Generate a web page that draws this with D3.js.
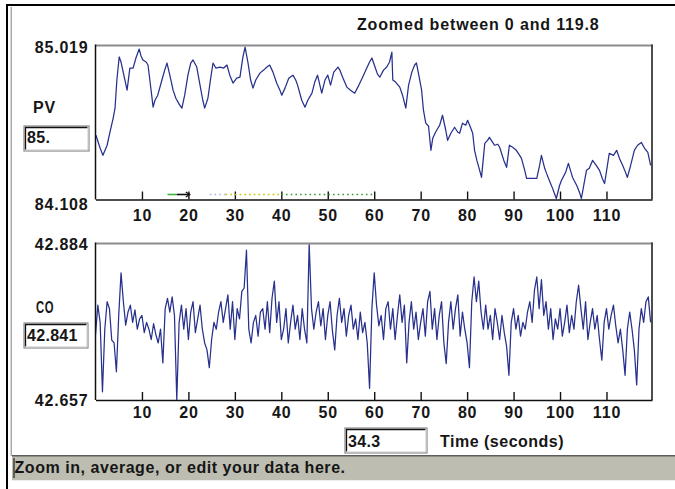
<!DOCTYPE html>
<html>
<head>
<meta charset="utf-8">
<script src="https://cdn.jsdelivr.net/npm/d3@7/dist/d3.min.js"></script>
<style>
  body { margin: 0; background: #fff; }
  text {
    font-family: "Liberation Sans", Arial, sans-serif;
    font-weight: bold;
    font-size: 16px;
    letter-spacing: 0.8px;
    fill: #161616;
  }
</style>
</head>
<body>
<div id="chart"></div>
<script>
/** Data */
const timeTicks = [10, 20, 30, 40, 50, 60, 70, 80, 90, 100, 110];
const timeRange = [0, 119.8];
const pvRange = [84.108, 85.019];
const coRange = [42.657, 42.884];
const pvReadout = "85.";
const coReadout = "42.841";
const timeReadout = "34.3";

const pvTime = [
  0.1, 1.0, 1.6, 2.5, 3.1, 3.8, 4.2, 4.6, 5.1, 5.5, 6.1, 6.8, 7.4, 8.1, 8.7, 9.4, 9.8,
  10.2, 10.9, 11.3, 11.7, 12.4, 12.8, 13.4, 14.3, 14.9, 15.4, 16.0, 16.7, 17.3, 18.0, 18.6, 19.2, 19.9,
  20.5, 21.0, 21.8, 22.5, 23.1, 23.5, 24.2, 24.8, 25.3, 25.9, 26.8, 27.6, 28.3, 28.9, 29.6,
  30.4, 31.1, 31.7, 32.2, 32.8, 33.4, 33.9, 34.5, 35.4, 36.2, 36.9, 37.5, 38.2, 39.0, 39.7,
  40.1, 40.8, 41.6, 42.5, 43.1, 43.5, 44.4, 45.1, 45.7, 46.6, 47.2, 47.8, 48.3, 48.7, 49.4,
  50.0, 50.6, 51.3, 52.2, 52.6, 53.2, 54.1, 54.9, 55.8, 56.7, 57.5, 58.4, 59.0, 59.5,
  60.1, 60.7, 61.2, 62.0, 62.7, 63.3, 63.8, 64.0, 64.6, 65.5, 66.1, 66.8, 67.4, 68.1, 68.7, 69.1, 69.8,
  70.2, 70.6, 71.1, 71.7, 72.2, 72.6, 73.2, 73.7, 74.1, 74.7, 75.4, 75.8, 76.5, 77.3, 78.0, 78.4, 79.0, 79.7,
  80.1, 80.8, 81.2, 81.6, 82.1, 82.7, 83.1, 83.8, 84.4, 84.8, 85.5, 85.9, 86.6, 87.0, 87.9, 88.5, 89.1, 89.8,
  90.6, 91.3, 91.7, 92.4, 92.8, 93.9, 95.0, 95.6, 96.0, 96.7, 97.1, 97.7, 98.4, 98.8, 99.2, 99.9,
  100.3, 101.2, 101.8, 102.7, 103.6, 104.2, 104.6, 105.3, 105.7, 106.3, 107.0, 107.8, 108.5, 109.1, 109.6,
  110.2, 110.6, 111.5, 112.2, 112.8, 113.5, 114.1, 114.5, 115.2, 116.0, 116.7, 117.5, 118.2, 118.9, 119.5
];
const pvValue = [
  84.489, 84.412, 84.370, 84.430, 84.507, 84.590, 84.650, 84.817, 84.954, 84.924, 84.846, 84.757, 84.888, 84.888, 84.948, 85.001, 84.960,
  84.936, 84.924, 84.906, 84.817, 84.656, 84.697, 84.727, 84.817, 84.876, 84.918, 84.846, 84.757, 84.709, 84.674, 84.650, 84.727, 84.846,
  84.918, 84.936, 84.894, 84.787, 84.697, 84.650, 84.709, 84.828, 84.918, 84.888, 84.894, 84.888, 84.906, 84.846, 84.799,
  84.828, 84.834, 84.948, 85.013, 84.924, 84.817, 84.769, 84.817, 84.858, 84.876, 84.894, 84.906, 84.864, 84.799, 84.757,
  84.727, 84.769, 84.828, 84.846, 84.817, 84.787, 84.697, 84.656, 84.697, 84.739, 84.805, 84.846, 84.787, 84.739, 84.817,
  84.846, 84.787, 84.864, 84.894, 84.876, 84.834, 84.775, 84.757, 84.739, 84.787, 84.834, 84.888, 84.924, 84.948,
  84.900, 84.852, 84.834, 84.876, 84.894, 84.924, 84.983, 84.817, 84.805, 84.775, 84.727, 84.650, 84.787, 84.864, 84.906, 84.918, 84.817,
  84.757, 84.638, 84.561, 84.543, 84.400, 84.471, 84.507, 84.531, 84.549, 84.608, 84.519, 84.459, 84.501, 84.537, 84.507, 84.501, 84.561, 84.549,
  84.578, 84.531, 84.501, 84.400, 84.340, 84.281, 84.239, 84.441, 84.459, 84.477, 84.447, 84.430, 84.436, 84.418, 84.340, 84.299, 84.430, 84.418,
  84.400, 84.370, 84.352, 84.281, 84.233, 84.233, 84.233, 84.310, 84.370, 84.293, 84.263, 84.221, 84.174, 84.144, 84.114, 84.191,
  84.221, 84.269, 84.322, 84.239, 84.191, 84.150, 84.114, 84.221, 84.281, 84.293, 84.340, 84.310, 84.281, 84.233, 84.203,
  84.310, 84.382, 84.370, 84.400, 84.352, 84.310, 84.269, 84.239, 84.310, 84.400, 84.430, 84.447, 84.412, 84.388, 84.310
];

// CO sampled every half second from t = 0
const coStep = 0.5;
const coValue = [
  42.752, 42.795, 42.770, 42.669, 42.760, 42.800, 42.790, 42.744, 42.740, 42.698,
  42.780, 42.842, 42.800, 42.766, 42.785, 42.795, 42.770, 42.788, 42.760, 42.775,
  42.780, 42.755, 42.770, 42.760, 42.745, 42.768, 42.752, 42.740, 42.760, 42.711,
  42.790, 42.805, 42.785, 42.807, 42.780, 42.657, 42.770, 42.795, 42.760, 42.790,
  42.745, 42.785, 42.800, 42.755, 42.775, 42.795, 42.760, 42.740, 42.730, 42.704,
  42.745, 42.770, 42.760, 42.785, 42.800, 42.770, 42.790, 42.810, 42.760, 42.800,
  42.745, 42.790, 42.775, 42.815, 42.820, 42.875, 42.760, 42.740, 42.770, 42.780,
  42.750, 42.785, 42.790, 42.760, 42.800, 42.755, 42.805, 42.830, 42.770, 42.800,
  42.745, 42.760, 42.790, 42.740, 42.770, 42.795, 42.760, 42.780, 42.745, 42.790,
  42.760, 42.740, 42.884, 42.790, 42.760, 42.785, 42.800, 42.765, 42.790, 42.745,
  42.780, 42.800, 42.758, 42.730, 42.780, 42.805, 42.770, 42.790, 42.750, 42.780,
  42.795, 42.760, 42.775, 42.745, 42.785, 42.755, 42.770, 42.740, 42.674, 42.790,
  42.842, 42.795, 42.765, 42.780, 42.745, 42.790, 42.800, 42.760, 42.790, 42.745,
  42.780, 42.810, 42.770, 42.795, 42.711, 42.770, 42.800, 42.760, 42.785, 42.745,
  42.770, 42.790, 42.750, 42.800, 42.815, 42.760, 42.790, 42.745, 42.780, 42.800,
  42.740, 42.710, 42.770, 42.800, 42.760, 42.790, 42.810, 42.750, 42.785, 42.760,
  42.740, 42.704, 42.800, 42.836, 42.800, 42.830, 42.785, 42.760, 42.795, 42.760,
  42.780, 42.745, 42.790, 42.770, 42.745, 42.780, 42.755, 42.735, 42.693, 42.770,
  42.790, 42.760, 42.780, 42.750, 42.770, 42.760, 42.785, 42.800, 42.770, 42.817,
  42.836, 42.790, 42.832, 42.780, 42.800, 42.760, 42.790, 42.745, 42.775, 42.760,
  42.790, 42.750, 42.770, 42.795, 42.755, 42.780, 42.760, 42.800, 42.824, 42.790,
  42.760, 42.800, 42.745, 42.770, 42.790, 42.760, 42.780, 42.745, 42.715, 42.770,
  42.790, 42.760, 42.780, 42.795, 42.765, 42.740, 42.760, 42.730, 42.693, 42.760,
  42.785, 42.760, 42.730, 42.679, 42.760, 42.790, 42.770, 42.800, 42.807, 42.770
];

// range markers drawn under the PV trace
const markerStart = [15.5, 17.5, 24.6, 28.0, 40.0];
const markerEnd = [17.5, 20.3, 28.0, 40.0, 60.0];
const markerColor = ["#3cb43c", "#111111", "#a9b8e8", "#c8c400", "#3a9a3a"];
const markerDash = [null, null, "1.6 3.1", "1.6 3.1", "1.6 3.1"];

/** Layout */
const W = 675, H = 489;
const plotLeft = 95.5, plotRight = 652;
const pvTop = 46, pvBottom = 199.5;
const coTop = 244, coBottom = 400;
const lineColor = "#27308c";

const svg = d3.select("#chart").append("svg")
  .attr("width", W).attr("height", H)
  .style("display", "block");

svg.append("rect").attr("width", W).attr("height", H).attr("fill", "#fff");

/** Window frame */
svg.append("rect").attr("x", 6).attr("y", 4).attr("width", W - 6).attr("height", 2).attr("fill", "#000");
svg.append("rect").attr("x", 6).attr("y", 4).attr("width", 2).attr("height", H - 4).attr("fill", "#000");
svg.append("rect").attr("x", 10).attr("y", 7).attr("width", 1).attr("height", 449).attr("fill", "#d8d8d8");
svg.append("rect").attr("x", 11).attr("y", 7).attr("width", 1).attr("height", 449).attr("fill", "#a8a8a8");

/** Status bar */
svg.append("rect").attr("x", 12).attr("y", 456).attr("width", W - 12).attr("height", 24).attr("fill", "#bdbdb1");
svg.append("rect").attr("x", 12).attr("y", 455).attr("width", W - 12).attr("height", 1.5).attr("fill", "#5c5c5c");
svg.append("rect").attr("x", 12).attr("y", 480).attr("width", W - 12).attr("height", 1).attr("fill", "#ececec");
svg.append("rect").attr("x", 13.5).attr("y", 458).attr("width", 1).attr("height", 20).attr("fill", "#000");
svg.append("text").attr("x", 14.5).attr("y", 472.5).style("letter-spacing", "0.55px")
  .text("Zoom in, average, or edit your data here.");

/** Scales */
const x = d3.scaleLinear().domain(timeRange).range([plotLeft, plotRight]);
const yPV = d3.scaleLinear().domain(pvRange).range([pvBottom, pvTop]);
const yCO = d3.scaleLinear().domain(coRange).range([coBottom, coTop]);

const drawPanel = (id, y, top, bottom, times, values, labelY) => {
  svg.append("clipPath").attr("id", id)
    .append("rect").attr("x", plotLeft).attr("y", top - 1)
    .attr("width", plotRight - plotLeft).attr("height", bottom - top + 2);

  const line = d3.line().x((d) => x(d[0])).y((d) => y(d[1]));
  svg.append("path")
    .datum(times.map((t, i) => [t, values[i]]))
    .attr("clip-path", `url(#${id})`)
    .attr("fill", "none")
    .attr("stroke", lineColor)
    .attr("stroke-width", 1.25)
    .attr("stroke-linejoin", "round")
    .attr("d", line);

  // frame: grey top, dark right, black left and bottom
  svg.append("line").attr("x1", plotLeft).attr("x2", plotRight + 1).attr("y1", top - 0.5).attr("y2", top - 0.5)
    .attr("stroke", "#8c8c8c").attr("stroke-width", 2);
  svg.append("line").attr("x1", plotRight).attr("x2", plotRight).attr("y1", top - 1.5).attr("y2", bottom)
    .attr("stroke", "#3a3a3a").attr("stroke-width", 1.8);
  svg.append("line").attr("x1", plotLeft).attr("x2", plotLeft).attr("y1", top - 1.5).attr("y2", bottom)
    .attr("stroke", "#111").attr("stroke-width", 1.5);

  const axis = d3.axisBottom(x).tickValues(timeTicks).tickSizeInner(-8).tickSizeOuter(0).tickFormat(d3.format("d"));
  const g = svg.append("g").attr("transform", `translate(0,${bottom})`).call(axis);
  g.select(".domain").attr("stroke", "#111").attr("stroke-width", 1.6);
  g.selectAll(".tick line").attr("stroke", "#111").attr("stroke-width", 1.4);
  g.selectAll(".tick text")
    .attr("y", labelY).attr("dy", 0)
    .attr("fill", "#161616");
  g.attr("font-family", null).attr("font-size", null);
};

drawPanel("clipPV", yPV, pvTop, pvBottom, pvTime, pvValue, 21);
drawPanel("clipCO", yCO, coTop, coBottom, coValue.map((_, i) => i * coStep), coValue, 18);

/** Markers below PV trace */
const markerY = 194.5;
markerStart.forEach((s, i) => {
  svg.append("line")
    .attr("x1", x(s)).attr("x2", x(markerEnd[i]))
    .attr("y1", markerY).attr("y2", markerY)
    .attr("stroke", markerColor[i])
    .attr("stroke-width", 1.6)
    .attr("stroke-dasharray", markerDash[i]);
});
svg.append("path")
  .attr("d", `M${x(markerEnd[1]) - 4},${markerY - 2.5}L${x(markerEnd[1])},${markerY}L${x(markerEnd[1]) - 4},${markerY + 2.5}`)
  .attr("fill", "none").attr("stroke", "#111").attr("stroke-width", 1.2);

/** Range labels */
const labelEnd = 88.5;
const valueLabel = (txt, yy) =>
  svg.append("text").attr("x", labelEnd).attr("y", yy).attr("text-anchor", "end").text(txt);
valueLabel(d3.format(".3f")(pvRange[1]), 52.5);
valueLabel(d3.format(".3f")(pvRange[0]), 210);
valueLabel(d3.format(".3f")(coRange[1]), 250);
valueLabel(d3.format(".3f")(coRange[0]), 406);

svg.append("text").attr("x", 33).attr("y", 113).text("PV");
svg.append("text").attr("x", 36).attr("y", 313).attr("textLength", 18).attr("lengthAdjust", "spacingAndGlyphs").text("CO");
svg.append("text").attr("x", 357).attr("y", 30).style("letter-spacing", "0.85px").text("Zoomed between 0 and 119.8");
svg.append("text").attr("x", 440).attr("y", 446.5).style("letter-spacing", "0.5px").text("Time (seconds)");

/** Sunken edit fields */
const field = (bx, by, bw, bh, txt, ty) => {
  svg.append("rect").attr("x", bx).attr("y", by).attr("width", bw).attr("height", bh)
    .attr("fill", "#fff").attr("stroke", "#8a8a8a").attr("stroke-width", 1.2);
  svg.append("path")
    .attr("d", `M${bx + 1.5},${by + bh - 1.5}V${by + 1.5}H${bx + bw - 1.5}`)
    .attr("fill", "none").attr("stroke", "#111").attr("stroke-width", 1.3);
  svg.append("path")
    .attr("d", `M${bx + 1.5},${by + bh - 1}H${bx + bw - 1}V${by + 1.5}`)
    .attr("fill", "none").attr("stroke", "#c8c8c8").attr("stroke-width", 1);
  svg.append("text").attr("x", bx + 3).attr("y", ty).style("letter-spacing", "0.3px").text(txt);
};
field(24, 126, 65, 25, pvReadout, 143);
field(24, 323, 64, 25, coReadout, 340.5);
field(345, 428, 82, 25, timeReadout, 446.5);
</script>
</body>
</html>
